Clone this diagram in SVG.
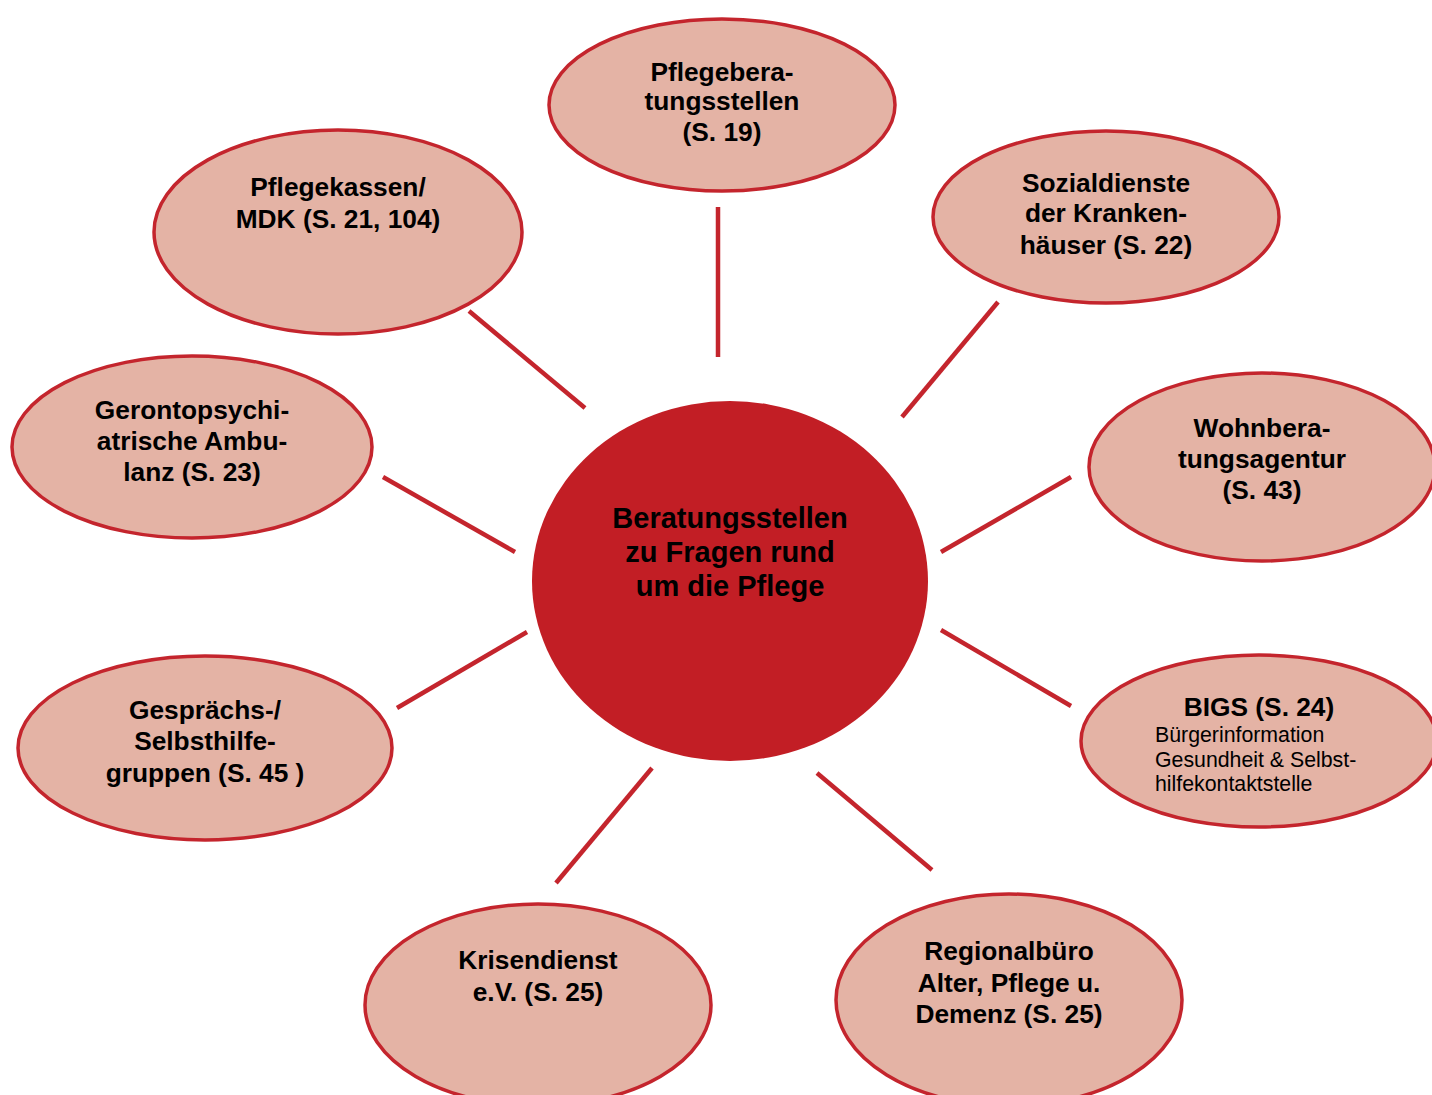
<svg xmlns="http://www.w3.org/2000/svg" width="1432" height="1095" viewBox="0 0 1432 1095">
<style>
.sat{fill:#E4B3A5;stroke:#C4252D;stroke-width:3.5}
.ctr{fill:#C21E25}
.con line{stroke:#C4252D;stroke-width:4.5}
text{font-family:"Liberation Sans",Arial,sans-serif;fill:#000}
.b{font-weight:bold;font-size:26.3px;text-anchor:middle}
.c{font-weight:bold;font-size:29px;text-anchor:middle}
.r{font-size:21.3px}
</style>
<rect width="1432" height="1095" fill="#fff"/>
<g id="connectors" class="con">
<line x1="718" y1="207" x2="718" y2="357"/>
<line x1="998" y1="302" x2="902" y2="417"/>
<line x1="1071" y1="477" x2="941" y2="552"/>
<line x1="941" y1="630" x2="1071" y2="706"/>
<line x1="817" y1="773" x2="932" y2="870"/>
<line x1="652" y1="768" x2="556" y2="883"/>
<line x1="527" y1="632" x2="397" y2="708"/>
<line x1="515" y1="552" x2="383" y2="477"/>
<line x1="585" y1="408" x2="469" y2="311"/>
</g>
<g id="center">
<ellipse class="ctr" cx="730" cy="581" rx="198" ry="180"/>
<text class="c" x="730" y="528">Beratungsstellen</text>
<text class="c" x="730" y="562">zu Fragen rund</text>
<text class="c" x="730" y="596">um die Pflege</text>
</g>
<g id="pflegeberatungsstellen">
<ellipse class="sat" cx="722" cy="105" rx="173" ry="86"/>
<text class="b" x="722" y="81">Pflegebera-</text>
<text class="b" x="722" y="110">tungsstellen</text>
<text class="b" x="722" y="141">(S. 19)</text>
</g>
<g id="sozialdienste">
<ellipse class="sat" cx="1106" cy="217" rx="173" ry="86"/>
<text class="b" x="1106" y="192">Sozialdienste</text>
<text class="b" x="1106" y="222">der Kranken-</text>
<text class="b" x="1106" y="254">häuser (S. 22)</text>
</g>
<g id="wohnberatungsagentur">
<ellipse class="sat" cx="1262" cy="467" rx="173" ry="94"/>
<text class="b" x="1262" y="437">Wohnbera-</text>
<text class="b" x="1262" y="468">tungsagentur</text>
<text class="b" x="1262" y="499">(S. 43)</text>
</g>
<g id="bigs">
<ellipse class="sat" cx="1259" cy="741" rx="178" ry="86"/>
<text class="b" x="1259" y="716">BIGS (S. 24)</text>
<text class="r" x="1155" y="742">Bürgerinformation</text>
<text class="r" x="1155" y="767">Gesundheit &amp; Selbst-</text>
<text class="r" x="1155" y="791">hilfekontaktstelle</text>
</g>
<g id="regionalbuero">
<ellipse class="sat" cx="1009" cy="1000" rx="173" ry="106"/>
<text class="b" x="1009" y="960">Regionalbüro</text>
<text class="b" x="1009" y="992">Alter, Pflege u.</text>
<text class="b" x="1009" y="1023">Demenz (S. 25)</text>
</g>
<g id="krisendienst">
<ellipse class="sat" cx="538" cy="1005" rx="173" ry="101"/>
<text class="b" x="538" y="969">Krisendienst</text>
<text class="b" x="538" y="1001">e.V. (S. 25)</text>
</g>
<g id="gespraechsgruppen">
<ellipse class="sat" cx="205" cy="748" rx="187" ry="92"/>
<text class="b" x="205" y="719">Gesprächs-/</text>
<text class="b" x="205" y="750">Selbsthilfe-</text>
<text class="b" x="205" y="782">gruppen (S. 45 )</text>
</g>
<g id="gerontopsychiatrische">
<ellipse class="sat" cx="192" cy="447" rx="180" ry="91"/>
<text class="b" x="192" y="419">Gerontopsychi-</text>
<text class="b" x="192" y="450">atrische Ambu-</text>
<text class="b" x="192" y="481">lanz (S. 23)</text>
</g>
<g id="pflegekassen">
<ellipse class="sat" cx="338" cy="232" rx="184" ry="102"/>
<text class="b" x="338" y="196">Pflegekassen/</text>
<text class="b" x="338" y="228">MDK (S. 21, 104)</text>
</g>
</svg>
